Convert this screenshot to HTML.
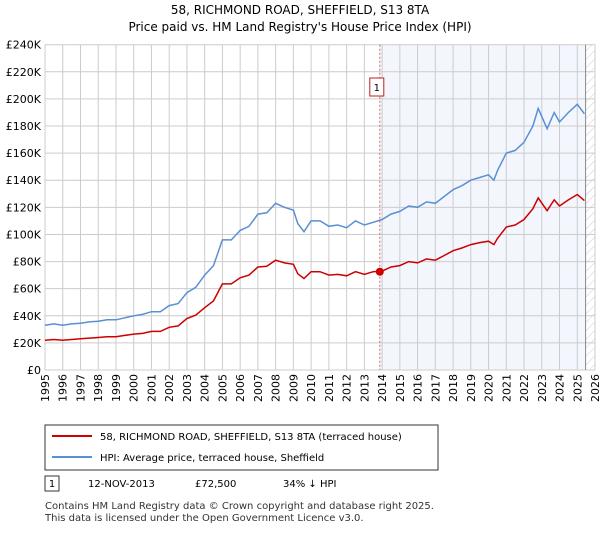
<!DOCTYPE html>
<html><head><meta charset="utf-8"><style>
body{margin:0;background:#fff;font-family:"Liberation Sans","DejaVu Sans",sans-serif;}
</style></head><body>
<svg width="600" height="530" xmlns="http://www.w3.org/2000/svg" font-family="DejaVu Sans, Liberation Sans, sans-serif">
<text x="300" y="14" text-anchor="middle" font-size="12">58, RICHMOND ROAD, SHEFFIELD, S13 8TA</text>
<text x="300" y="31" text-anchor="middle" font-size="12">Price paid vs. HM Land Registry's House Price Index (HPI)</text>
<defs><pattern id="hatch" width="6" height="6" patternUnits="userSpaceOnUse" patternTransform="rotate(45)"><line x1="0" y1="0" x2="0" y2="6" stroke="#ccc" stroke-width="1"/></pattern></defs>
<g id="plot"></g>
<g>
<rect x="45" y="425" width="393" height="45" fill="#fff" stroke="#333" stroke-width="1"/>
<line x1="52" y1="436" x2="92" y2="436" stroke="#cc0000" stroke-width="2"/>
<text x="100" y="440" font-size="10">58, RICHMOND ROAD, SHEFFIELD, S13 8TA (terraced house)</text>
<line x1="52" y1="457" x2="92" y2="457" stroke="#5b8fd4" stroke-width="2"/>
<text x="100" y="461" font-size="10">HPI: Average price, terraced house, Sheffield</text>
</g>
<g>
<rect x="45" y="476" width="14" height="15" fill="#fff" stroke="#333"/>
<text x="52" y="487" text-anchor="middle" font-size="10">1</text>
<text x="88" y="487" font-size="10">12-NOV-2013</text>
<text x="195" y="487" font-size="10">£72,500</text>
<text x="283" y="487" font-size="10">34% ↓ HPI</text>
</g>
<text x="45" y="509" font-size="10" fill="#333">Contains HM Land Registry data © Crown copyright and database right 2025.</text>
<text x="45" y="521" font-size="10" fill="#333">This data is licensed under the Open Government Licence v3.0.</text>
</svg>
<script>
const hpiYears=[1995,1995.5,1996,1996.5,1997,1997.5,1998,1998.5,1999,1999.5,2000,2000.5,2001,2001.5,2002,2002.5,2003,2003.5,2004,2004.5,2005,2005.5,2006,2006.5,2007,2007.5,2008,2008.5,2009,2009.25,2009.6,2010,2010.5,2011,2011.5,2012,2012.5,2013,2013.5,2014,2014.5,2015,2015.5,2016,2016.5,2017,2017.5,2018,2018.5,2019,2019.5,2020,2020.3,2020.5,2021,2021.5,2022,2022.5,2022.8,2023.3,2023.7,2024,2024.5,2025,2025.4];
const hpiValues=[33,34,33,34,34.5,35.5,36,37,37,38.5,40,41,43,43,47.5,49,57,61,70,77,96,96,103,106,115,116,123,120,118,108,102,110,110,106,107,105,110,107,109,111,115,117,121,120,124,123,128,133,136,140,142,144,140,147,160,162,168,180,193,178,190,183,190,196,189];
const priceValues=[22,22.5,22,22.5,23,23.5,24,24.5,24.5,25.5,26.5,27,28.5,28.5,31.5,32.5,38,40.5,46,51,63.5,63.5,68,70,76,76.5,81,79,78,71,67.5,72.5,72.5,70,70.5,69.5,72.5,70.5,72.5,73,76,77,80,79,82,81,84.5,88,90,92.5,94,95,92.5,97,105.5,107,111,119,127,117.5,125.5,121,125.5,129.5,125];
const yTicks=[0,20,40,60,80,100,120,140,160,180,200,220,240];
const xTicks=[1995,1996,1997,1998,1999,2000,2001,2002,2003,2004,2005,2006,2007,2008,2009,2010,2011,2012,2013,2014,2015,2016,2017,2018,2019,2020,2021,2022,2023,2024,2025,2026];
const saleYear=2013.87, salePrice=72.5, dataEnd=2025.47;
const X0=45,X1=595,Y0=370,Y1=44.7;
const xs=y=>X0+(y-1995)/(2026-1995)*(X1-X0);
const ys=v=>Y0-v/240*(Y0-Y1);
const NS="http://www.w3.org/2000/svg";
const g=document.getElementById('plot');
function mk(t,a){const e=document.createElementNS(NS,t);for(const k in a)e.setAttribute(k,a[k]);g.appendChild(e);return e;}
let r=mk('rect',{x:xs(saleYear),y:Y1,width:xs(dataEnd)-xs(saleYear),height:Y0-Y1,fill:'#f3f6fd'});


r=mk('rect',{x:xs(dataEnd),y:Y1,width:X1-xs(dataEnd),height:Y0-Y1,fill:'url(#hatch)'});


yTicks.forEach(v=>{const l=mk('line',{x1:X0,x2:X1,y1:ys(v),y2:ys(v),stroke:'#ccc','stroke-width':1});


const t=mk('text',{x:X0-4,y:ys(v)+4,'text-anchor':'end','font-size':11});t.textContent='£'+(v===0?'0':v+'K');

});
xTicks.forEach(y=>{const l=mk('line',{x1:xs(y),x2:xs(y),y1:Y1,y2:Y0,stroke:'#ccc','stroke-width':1});


const t=mk('text',{x:0,y:0,'text-anchor':'end','font-size':11,transform:`translate(${xs(y)+4},${Y0+4}) rotate(-90)`});t.textContent=y;

});
let d=mk('line',{x1:xs(dataEnd),x2:xs(dataEnd),y1:Y1,y2:Y0,stroke:'#888','stroke-width':1});


d=mk('line',{x1:xs(saleYear),x2:xs(saleYear),y1:Y1,y2:Y0,stroke:'#d66','stroke-width':1,'stroke-dasharray':'2,2'});


const pts=vals=>vals.map((v,i)=>xs(hpiYears[i]).toFixed(1)+','+ys(v).toFixed(1)).join(' ');
let p=mk('polyline',{points:pts(hpiValues),fill:'none',stroke:'#5b8fd4','stroke-width':1.5});


p=mk('polyline',{points:pts(priceValues),fill:'none',stroke:'#cc0000','stroke-width':1.5});


p=mk('circle',{cx:xs(saleYear),cy:ys(salePrice),r:4,fill:'#cc0000'});


const b=mk('rect',{x:xs(saleYear)-10,y:78,width:14,height:18,fill:'#fff',stroke:'#b22'});


const bt=mk('text',{x:xs(saleYear)-3,y:91,'text-anchor':'middle','font-size':10});bt.textContent='1';


</script>
</body></html>
